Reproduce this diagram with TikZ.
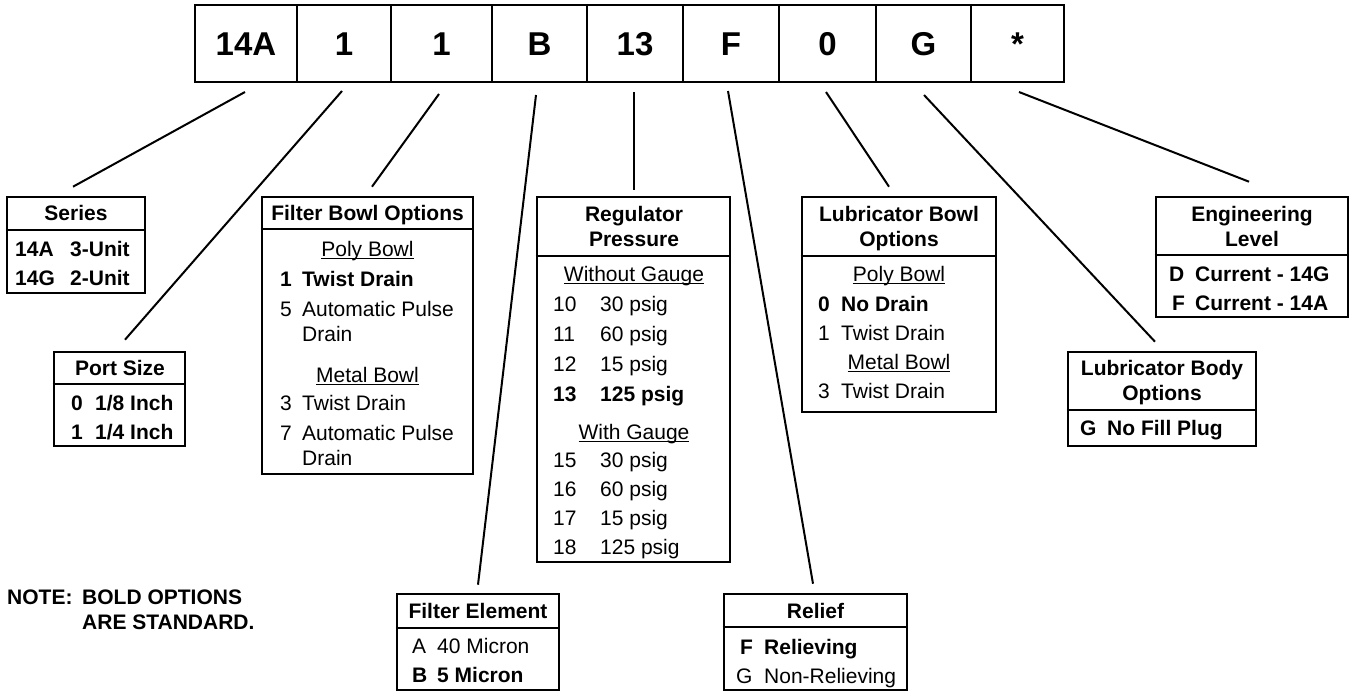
\documentclass[tikz,border=0pt]{standalone}
\usepackage{fontspec}
\setmainfont{Liberation Sans}
\newcommand\myul[1]{{\setbox0\hbox{#1}\rlap{\vrule height -1.5pt depth 2.8pt width \wd0}\box0}}
\tikzset{
 infobox/.style={draw, line width=2.6pt, rectangle, inner sep=0pt},
 topbox/.style={draw, line width=2pt, rectangle, inner sep=0pt, minimum height=77pt,
   font=\fontsize{33}{36}\selectfont\bfseries, text height=23.6pt, text depth=0pt},
 divider/.style={line width=2.6pt},
 conn/.style={line width=2pt},
 lt/.style={anchor=base west, inner sep=0pt, font=\fontsize{21}{25}\selectfont},
 ct/.style={anchor=base, inner sep=0pt, font=\fontsize{21}{25}\selectfont},
}
\begin{document}
\begin{tikzpicture}[x=1pt, y=-1pt]
\useasboundingbox (0,0) rectangle (1351,691);

% top code boxes
\node[topbox, minimum width=102pt] (t1) at (246,43.5) {14A};
\node[topbox, minimum width=94pt] (t2) at (344,43.5) {1};
\node[topbox, minimum width=101pt] (t3) at (441.5,43.5) {1};
\node[topbox, minimum width=95pt] (t4) at (539.5,43.5) {B};
\node[topbox, minimum width=96pt] (t5) at (635,43.5) {13};
\node[topbox, minimum width=96pt] (t6) at (731,43.5) {F};
\node[topbox, minimum width=97pt] (t7) at (827.5,43.5) {0};
\node[topbox, minimum width=95pt] (t8) at (923.5,43.5) {G};
\node[topbox, minimum width=93pt] (t9) at (1017.5,43.5) {*};

% Series
\node[infobox, minimum width=138pt, minimum height=96pt] (series) at (76,245) {};
\draw[divider] (series.west |- 0,230) -- (series.east |- 0,230);
\node[ct] (series-t) at (76,220.5) {\bfseries Series};
\node[lt] (series-1a) at (15,256.5) {\bfseries 14A};
\node[lt] (series-1b) at (70,256.5) {\bfseries 3-Unit};
\node[lt] (series-2a) at (15,285.5) {\bfseries 14G};
\node[lt] (series-2b) at (70,285.5) {\bfseries 2-Unit};

% Port Size
\node[infobox, minimum width=131pt, minimum height=94pt] (port) at (119.5,399) {};
\draw[divider] (port.west |- 0,384) -- (port.east |- 0,384);
\node[ct] (port-t) at (120,375.5) {\bfseries Port Size};
\node[lt] (port-1a) at (71,410.5) {\bfseries 0};
\node[lt] (port-1b) at (95,410.5) {\bfseries 1/8 Inch};
\node[lt] (port-2a) at (71,439.5) {\bfseries 1};
\node[lt] (port-2b) at (95,439.5) {\bfseries 1/4 Inch};

% Filter Bowl Options
\node[infobox, minimum width=211pt, minimum height=277pt] (fbowl) at (367.5,335.5) {};
\draw[divider] (fbowl.west |- 0,229) -- (fbowl.east |- 0,229);
\node[ct] (fbowl-t) at (367.5,220.5) {\bfseries Filter Bowl Options};
\node[ct] (fbowl-h1) at (367.5,256) {\myul{Poly Bowl}};
\node[lt] (fbowl-1a) at (280,286.5) {\bfseries 1};
\node[lt] (fbowl-1b) at (302,286.5) {\bfseries Twist Drain};
\node[lt] (fbowl-2a) at (280,316.5) {5};
\node[lt] (fbowl-2b) at (302,316.5) {Automatic Pulse};
\node[lt] (fbowl-2c) at (302,341.5) {Drain};
\node[ct] (fbowl-h2) at (367.5,382) {\myul{Metal Bowl}};
\node[lt] (fbowl-3a) at (280,410.5) {3};
\node[lt] (fbowl-3b) at (302,410.5) {Twist Drain};
\node[lt] (fbowl-4a) at (280,440.5) {7};
\node[lt] (fbowl-4b) at (302,440.5) {Automatic Pulse};
\node[lt] (fbowl-4c) at (302,465.5) {Drain};

% Regulator Pressure
\node[infobox, minimum width=193pt, minimum height=365pt] (reg) at (633.5,379.5) {};
\draw[divider] (reg.west |- 0,256) -- (reg.east |- 0,256);
\node[ct] (reg-t1) at (634,221.5) {\bfseries Regulator};
\node[ct] (reg-t2) at (634,246.5) {\bfseries Pressure};
\node[ct] (reg-h1) at (634,281) {\myul{Without Gauge}};
\node[lt] (reg-1a) at (553,311.5) {10};
\node[lt] (reg-1b) at (600,311.5) {30 psig};
\node[lt] (reg-2a) at (553,341.5) {11};
\node[lt] (reg-2b) at (600,341.5) {60 psig};
\node[lt] (reg-3a) at (553,371.5) {12};
\node[lt] (reg-3b) at (600,371.5) {15 psig};
\node[lt] (reg-4a) at (553,401.5) {\bfseries 13};
\node[lt] (reg-4b) at (600,401.5) {\bfseries 125 psig};
\node[ct] (reg-h2) at (634,439) {\myul{With Gauge}};
\node[lt] (reg-5a) at (553,467.5) {15};
\node[lt] (reg-5b) at (600,467.5) {30 psig};
\node[lt] (reg-6a) at (553,496.5) {16};
\node[lt] (reg-6b) at (600,496.5) {60 psig};
\node[lt] (reg-7a) at (553,525.5) {17};
\node[lt] (reg-7b) at (600,525.5) {15 psig};
\node[lt] (reg-8a) at (553,554.5) {18};
\node[lt] (reg-8b) at (600,554.5) {125 psig};

% Filter Element
\node[infobox, minimum width=162pt, minimum height=96pt] (felem) at (478,642) {};
\draw[divider] (felem.west |- 0,628) -- (felem.east |- 0,628);
\node[ct] (felem-t) at (478,618.5) {\bfseries Filter Element};
\node[lt] (felem-1a) at (412,653.5) {A};
\node[lt] (felem-1b) at (437,653.5) {40 Micron};
\node[lt] (felem-2a) at (412,682.5) {\bfseries B};
\node[lt] (felem-2b) at (437,682.5) {\bfseries 5 Micron};

% Relief
\node[infobox, minimum width=183pt, minimum height=96pt] (relief) at (815.5,642) {};
\draw[divider] (relief.west |- 0,627) -- (relief.east |- 0,627);
\node[ct] (relief-t) at (815.5,618.5) {\bfseries Relief};
\node[lt] (relief-1a) at (740,654.5) {\bfseries F};
\node[lt] (relief-1b) at (764,654.5) {\bfseries Relieving};
\node[lt] (relief-2a) at (736,683.5) {G};
\node[lt] (relief-2b) at (764,683.5) {Non-Relieving};

% Lubricator Bowl Options
\node[infobox, minimum width=194pt, minimum height=215pt] (lbowl) at (899,304.5) {};
\draw[divider] (lbowl.west |- 0,256) -- (lbowl.east |- 0,256);
\node[ct] (lbowl-t1) at (899,221.5) {\bfseries Lubricator Bowl};
\node[ct] (lbowl-t2) at (899,246.5) {\bfseries Options};
\node[ct] (lbowl-h1) at (899,281) {\myul{Poly Bowl}};
\node[lt] (lbowl-1a) at (818,311.5) {\bfseries 0};
\node[lt] (lbowl-1b) at (841,311.5) {\bfseries No Drain};
\node[lt] (lbowl-2a) at (818,340.5) {1};
\node[lt] (lbowl-2b) at (841,340.5) {Twist Drain};
\node[ct] (lbowl-h2) at (899,369) {\myul{Metal Bowl}};
\node[lt] (lbowl-3a) at (818,398.5) {3};
\node[lt] (lbowl-3b) at (841,398.5) {Twist Drain};

% Lubricator Body Options
\node[infobox, minimum width=188pt, minimum height=94pt] (lbody) at (1162,399) {};
\draw[divider] (lbody.west |- 0,410) -- (lbody.east |- 0,410);
\node[ct] (lbody-t1) at (1162,375.5) {\bfseries Lubricator Body};
\node[ct] (lbody-t2) at (1162,400.5) {\bfseries Options};
\node[lt] (lbody-1a) at (1080,435.5) {\bfseries G};
\node[lt] (lbody-1b) at (1107,435.5) {\bfseries No Fill Plug};

% Engineering Level
\node[infobox, minimum width=192pt, minimum height=120pt] (eng) at (1252,257) {};
\draw[divider] (eng.west |- 0,255) -- (eng.east |- 0,255);
\node[ct] (eng-t1) at (1252,221.5) {\bfseries Engineering};
\node[ct] (eng-t2) at (1252,246.5) {\bfseries Level};
\node[lt] (eng-1a) at (1169,281.5) {\bfseries D};
\node[lt] (eng-1b) at (1195,281.5) {\bfseries Current - 14G};
\node[lt] (eng-2a) at (1172,310.5) {\bfseries F};
\node[lt] (eng-2b) at (1195,310.5) {\bfseries Current - 14A};

% Note
\node[lt] (note-a) at (7,604.5) {\bfseries NOTE:};
\node[lt] (note-b) at (82,604.5) {\bfseries BOLD OPTIONS};
\node[lt] (note-c) at (82,629.5) {\bfseries ARE STANDARD.};

% connectors
\draw[conn] ([xshift=-1pt,yshift=-9pt]t1.south) -- ([xshift=-3pt,yshift=9pt]series.north);
\draw[conn] ([xshift=-2pt,yshift=-8pt]t2.south) -- ([xshift=5.5pt,yshift=11pt]port.north);
\draw[conn] ([xshift=-2.5pt,yshift=-11pt]t3.south) -- ([xshift=4.5pt,yshift=9pt]fbowl.north);
\draw[conn] ([xshift=-3.5pt,yshift=-12pt]t4.south) -- ([yshift=8pt]felem.north);
\draw[conn] ([xshift=-1pt,yshift=-9pt]t5.south) -- ([xshift=0.5pt,yshift=6pt]reg.north);
\draw[conn] ([xshift=-3pt,yshift=-8pt]t6.south) -- ([xshift=-2.5pt,yshift=9pt]relief.north);
\draw[conn] ([xshift=-1.5pt,yshift=-9pt]t7.south) -- ([xshift=-10pt,yshift=9pt]lbowl.north);
\draw[conn] ([xshift=0.5pt,yshift=-12pt]t8.south) -- ([xshift=-7pt,yshift=9pt]lbody.north);
\draw[conn] ([xshift=1.5pt,yshift=-9pt]t9.south) -- ([xshift=-3pt,yshift=14pt]eng.north);
\end{tikzpicture}
\end{document}
